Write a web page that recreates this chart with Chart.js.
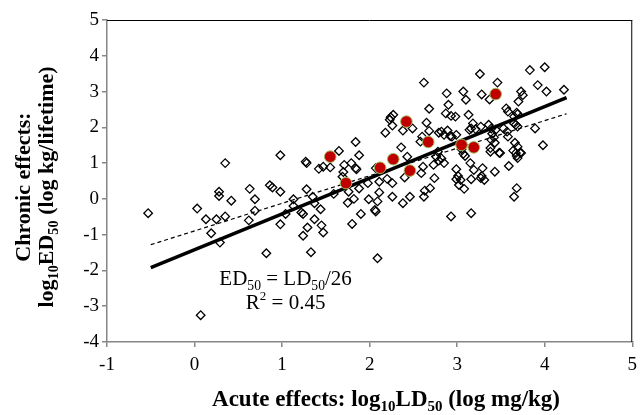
<!DOCTYPE html>
<html>
<head>
<meta charset="utf-8">
<script src="https://cdn.jsdelivr.net/npm/chart.js@4.4.1/dist/chart.umd.min.js"></script>
<style>
  html, body { margin: 0; padding: 0; background: #fff; }
  #wrap { width: 644px; height: 415px; }
</style>
</head>
<body>
<div id="wrap"><canvas id="grafico" width="644" height="415"></canvas></div>
<script>
// acute (x) vs chronic (y), open diamonds
const diamondX = [
  -0.53, 0.35, 0.03, 0.28, 0.28, 0.42, 0.63, 0.69, 0.69, 0.62, 0.13, 0.25, 0.35, 0.19, 0.29, 0.07, 0.82,
  0.98, 1.27, 1.28, 1.42, 1.47, 1.65, 1.84, 1.88, 1.71, 1.79, 1.84, 1.85, 1.55, 1.70, 1.69, 1.59, 1.76,
  1.88, 1.98, 1.82, 1.75, 1.90, 1.80, 1.99, 2.06, 0.98, 0.86, 0.89, 0.98, 1.04, 1.13, 1.13, 1.22, 1.24,
  1.28, 1.35, 1.37, 1.44, 1.37, 1.45, 1.29, 1.24, 1.47, 1.33, 2.07, 2.09,
  2.62, 2.88, 2.90, 2.68, 2.87, 2.93, 2.24, 2.27, 2.23, 2.26, 2.18, 2.38, 2.49, 2.65, 2.68, 2.60, 2.58,
  2.79, 2.82, 2.85, 2.89, 2.92, 2.94, 2.36, 2.43, 2.61, 2.59, 2.73, 2.74, 2.76, 2.78, 2.82, 2.85, 2.79,
  2.20, 2.26, 2.11, 2.26, 2.46, 2.38, 2.63, 2.69, 2.62, 2.09, 2.07, 2.93, 2.11, 2.40,
  2.99, 3.01, 3.04, 2.99, 3.02, 3.08, 3.16, 3.07, 3.09, 3.15, 3.19, 3.29, 3.16, 3.27, 3.31, 3.28, 3.38,
  3.49, 3.43, 3.59, 3.68, 3.65, 3.68, 3.73, 3.26, 3.46, 3.83, 4.00, 3.92, 4.02, 3.07, 3.10, 3.28, 3.37,
  3.73, 3.75, 3.70, 3.13, 3.56, 3.58, 3.68, 3.69, 3.65, 2.98, 3.18, 3.16, 3.14, 3.21, 3.27, 3.36, 3.39,
  3.44, 3.53, 3.57, 3.65, 3.69, 3.67, 3.89, 2.99, 3.40, 3.42, 3.39, 3.43, 3.58, 3.38, 3.48, 3.66, 3.69,
  3.64, 3.67, 3.72, 3.69, 3.98, 3.05, 4.22
];
const diamondY = [
  -0.40, 1.00, -0.27, 0.20, 0.08, -0.05, 0.28, -0.01, -0.33, -0.60, -0.57, -0.57, -0.49, -0.96, -1.22, -3.25, -1.52,
  1.22, 1.04, 1.00, 0.84, 0.90, 1.34, 1.59, 1.22, 0.95, 1.00, 0.86, 0.83, 0.88, 0.75, 0.62, 0.14, 0.20,
  0.29, 0.44, 0.00, -0.11, -0.42, -0.70, -0.01, -0.31, 0.20, 0.38, 0.32, -0.71, -0.42, -0.01, -0.20, -0.38, -0.42,
  0.27, 0.06, -0.12, -0.29, -0.57, -0.74, -0.80, -1.03, -0.94, -1.49, 0.86, -1.66,
  3.25, 2.95, 2.63, 2.52, 2.39, 2.32, 2.28, 2.35, 2.21, 2.05, 1.85, 1.91, 1.97, 2.13, 1.90, 1.74, 1.60,
  1.85, 1.88, 1.79, 1.91, 1.76, 1.74, 1.44, 1.18, 0.90, 0.72, 0.95, 0.58, 1.18, 1.32, 1.13, 1.00, 1.07,
  0.56, 0.44, 0.18, 0.06, 0.06, -0.12, 0.23, 0.30, 0.06, -0.07, -0.35, -0.49, 0.48, 0.60,
  0.83, 0.64, 0.53, 0.55, 0.39, 0.28, -0.40, 1.26, 1.20, 1.00, 0.81, 0.86, 0.55, 0.58, 0.53, 0.64, 1.32,
  1.28, 0.76, 0.92, 0.30, 0.06, 1.20, 1.28, 3.49, 3.25, 3.60, 3.68, 3.18, 3.00, 3.00, 2.77, 2.92, 2.78,
  3.00, 2.90, 2.72, 2.35, 2.53, 2.44, 2.41, 2.37, 2.30, 2.30, 2.11, 1.97, 1.93, 1.95, 2.02, 2.07, 1.97,
  1.93, 1.97, 1.88, 2.11, 2.02, 2.07, 1.97, 1.79, 1.82, 1.72, 1.65, 1.57, 1.74, 1.42, 1.29, 1.57, 1.46,
  1.35, 1.28, 1.29, 1.14, 1.50, 1.39, 3.05
];

// highlighted substances (red dots)
const redX = [1.55, 1.73, 2.12, 2.27, 2.46, 2.42, 2.67, 3.05, 3.19, 3.44];
const redY = [1.18, 0.44, 0.87, 1.11, 0.79, 2.16, 1.59, 1.51, 1.44, 2.93];

// regression lines
const fitX = [-0.5, 4.25];
const fitY = [-1.92, 2.83];
const dashY = [-1.28, 2.38];

const xTicks = [-1, 0, 1, 2, 3, 4, 5];
const yTicks = [-4, -3, -2, -1, 0, 1, 2, 3, 4, 5];

const serif = "'Liberation Serif', 'Times New Roman', serif";
const cinza = '#868686';

// texto com subscritos: [texto, sub]
function textoRico(ctx, partes, x, y, size, bold, align) {
  const peso = bold ? 'bold ' : '';
  let total = 0;
  partes.forEach(p => {
    ctx.font = peso + (p[1] ? size * 0.65 : size) + 'px ' + serif;
    total += ctx.measureText(p[0]).width;
  });
  let cx = align === 'center' ? x - total / 2 : x;
  ctx.textBaseline = 'alphabetic';
  ctx.textAlign = 'left';
  partes.forEach(p => {
    ctx.font = peso + (p[1] ? size * 0.65 : size) + 'px ' + serif;
    ctx.fillText(p[0], cx, p[1] ? y + size * 0.22 : y);
    cx += ctx.measureText(p[0]).width;
  });
}

const textos = {
  id: 'textos',
  afterDraw(chart) {
    const ctx = chart.ctx;
    const a = chart.chartArea;
    const xs = chart.scales.x, ys = chart.scales.y;
    ctx.save();
    // borda de cima e da direita
    ctx.strokeStyle = '#000';
    ctx.lineWidth = 1;
    ctx.beginPath();
    ctx.moveTo(a.left, a.top + 0.5);
    ctx.lineTo(a.right, a.top + 0.5);
    ctx.moveTo(a.right - 0.5, a.top);
    ctx.lineTo(a.right - 0.5, a.bottom);
    ctx.stroke();

    ctx.fillStyle = '#000';
    // equacao
    const ex = xs.getPixelForValue(1.04);
    const ey = ys.getPixelForValue(-2.42);
    textoRico(ctx, [['ED', 0], ['50', 1], [' = LD', 0], ['50', 1], ['/26', 0]], ex, ey, 21, false, 'center');
    ctx.font = '21px ' + serif;
    const w1 = ctx.measureText('R').width;
    ctx.font = '13px ' + serif;
    const w2 = ctx.measureText('2').width;
    ctx.font = '21px ' + serif;
    const w3 = ctx.measureText(' = 0.45').width;
    let rx = ex - (w1 + w2 + w3) / 2;
    ctx.textAlign = 'left';
    ctx.fillText('R', rx, ey + 24);
    ctx.font = '13px ' + serif;
    ctx.fillText('2', rx + w1, ey + 15);
    ctx.font = '21px ' + serif;
    ctx.fillText(' = 0.45', rx + w1 + w2, ey + 24);

    // titulo do eixo x
    textoRico(ctx, [['Acute effects: log', 0], ['10', 1], ['LD', 0], ['50', 1], [' (log mg/kg)', 0]],
      386, 406, 23, true, 'center');

    // titulo do eixo y
    const cy = (a.top + a.bottom) / 2 + 6;
    ctx.translate(30, cy);
    ctx.rotate(-Math.PI / 2);
    textoRico(ctx, [['Chronic effects:', 0]], 0, 0, 22, true, 'center');
    ctx.rotate(Math.PI / 2);
    ctx.translate(23, 0);
    ctx.rotate(-Math.PI / 2);
    textoRico(ctx, [['log', 0], ['10', 1], ['ED', 0], ['50', 1], [' (log kg/lifetime)', 0]], 0, 0, 22, true, 'center');
    ctx.restore();
  }
};

const data = {
  datasets: [
    {
      label: 'destaque',
      data: redX.map((v, i) => ({ x: v, y: redY[i] })),
      pointStyle: 'circle',
      pointRadius: 5.8,
      backgroundColor: '#c00000',
      borderColor: '#9bbb59',
      borderWidth: 1,
      showLine: false,
      order: 0
    },
    {
      label: 'ajuste',
      type: 'line',
      data: fitX.map((v, i) => ({ x: v, y: fitY[i] })),
      borderColor: '#000',
      borderWidth: 3.5,
      pointRadius: 0,
      fill: false,
      order: 1
    },
    {
      label: 'tendencia',
      type: 'line',
      data: fitX.map((v, i) => ({ x: v, y: dashY[i] })),
      borderColor: '#000',
      borderWidth: 1.2,
      borderDash: [4, 3],
      pointRadius: 0,
      fill: false,
      order: 2
    },
    {
      label: 'substancias',
      data: diamondX.map((v, i) => ({ x: v, y: diamondY[i] })),
      pointStyle: 'rectRot',
      pointRadius: 4.3,
      backgroundColor: 'rgba(0,0,0,0)',
      borderColor: '#000',
      borderWidth: 1.3,
      showLine: false,
      order: 3
    }
  ]
};

const config = {
  type: 'scatter',
  data: data,
  options: {
    responsive: false,
    animation: false,
    devicePixelRatio: 1,
    layout: { padding: { top: 20, right: 4, bottom: 0, left: 0 } },
    plugins: {
      legend: { display: false },
      tooltip: { enabled: false }
    },
    scales: {
      x: {
        type: 'linear',
        min: -1,
        max: 5,
        afterFit: function (scale) { scale.height = 73; },
        afterBuildTicks: function (scale) { scale.ticks = xTicks.map(v => ({ value: v })); },
        ticks: { font: { family: serif, size: 19 }, color: '#000', padding: 7 },
        grid: { drawOnChartArea: false, drawTicks: true, tickLength: 5, color: cinza, lineWidth: 1.5 },
        border: { display: true, color: cinza, width: 1.5 }
      },
      y: {
        type: 'linear',
        min: -4,
        max: 5,
        afterFit: function (scale) { scale.width = 107; },
        afterBuildTicks: function (scale) { scale.ticks = yTicks.map(v => ({ value: v })); },
        ticks: { font: { family: serif, size: 19 }, color: '#000', padding: 3 },
        grid: { drawOnChartArea: false, drawTicks: true, tickLength: 5, color: cinza, lineWidth: 1.5 },
        border: { display: true, color: cinza, width: 1.5 }
      }
    }
  },
  plugins: [textos]
};

const ctx = document.getElementById('grafico').getContext('2d');
const myChart = new Chart(ctx, config);
</script>
</body>
</html>
